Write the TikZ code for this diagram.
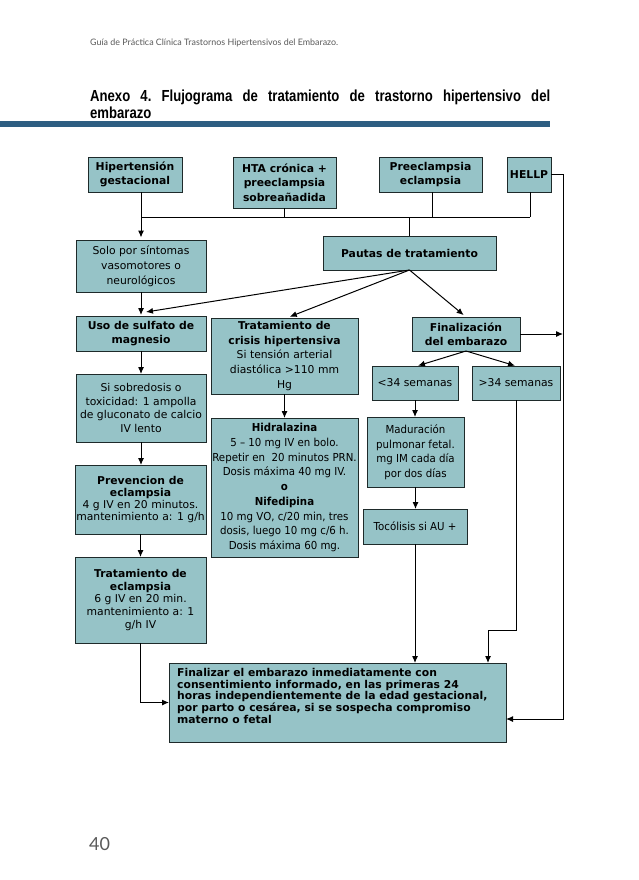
\documentclass[tikz,border=0pt]{standalone}
\usepackage{fontspec}
\usetikzlibrary{arrows.meta}
\newfontfamily\dv{DejaVu Sans}
\newfontfamily\dvn{DejaVu Sans}[FakeStretch=0.93]
\newfontfamily\ttl{Liberation Sans}[FakeStretch=0.82]
\newfontfamily\hdr{Lato}
\definecolor{boxfill}{HTML}{96C3C7}
\definecolor{boxline}{HTML}{1E2A2A}
\definecolor{barcol}{HTML}{2E5E82}
\tikzset{
 box/.style={draw=boxline, fill=boxfill, line width=0.9pt, inner sep=1pt, outer sep=0pt, align=center, font=\dv\fontsize{10.8}{14.6}\selectfont},
 conn/.style={line width=1pt, draw=black},
 arr/.style={conn, -{Latex[length=7pt,width=6pt]}},
}
\begin{document}
\begin{tikzpicture}[x=1pt,y=-1pt]
\useasboundingbox (0,0) rectangle (638,880);
% header
\node[anchor=base west, font=\hdr\fontsize{8.9}{10}\selectfont, text=black!65, inner sep=0] (hdr) at (90,46) {Guía de Práctica Clínica Trastornos Hipertensivos del Embarazo.};
\node[anchor=base west, font=\ttl\bfseries\fontsize{16}{17}\selectfont\frenchspacing, inner sep=0] (t1) at (90,102) {\makebox[460pt][s]{Anexo 4. Flujograma de tratamiento de trastorno hipertensivo del}};
\node[anchor=base west, font=\ttl\bfseries\fontsize{16}{17}\selectfont, inner sep=0] (t2) at (90,119) {embarazo};
\fill[barcol] (0,121.5) rectangle (550,127.5);
\node[anchor=base west, font=\hdr\fontsize{18}{20}\selectfont, text=black!65, inner sep=0] (pg) at (89,850) {40};

% boxes
\node[box, minimum width=94pt, minimum height=35pt] (hg) at (135,174.5) {\textbf{Hipertensión}\\\textbf{gestacional}};
\node[box, minimum width=103pt, minimum height=51pt] (hta) at (284.5,182.5) {\textbf{HTA crónica +}\\\textbf{preeclampsia}\\\textbf{sobreañadida}};
\node[box, minimum width=103pt, minimum height=35pt] (pre) at (430.5,174.5) {\textbf{Preeclampsia}\\\textbf{eclampsia}};
\node[box, minimum width=44pt, minimum height=35pt] (hellp) at (529,174.5) {\textbf{HELLP}};
\node[box, minimum width=130pt, minimum height=52pt, font=\dv\fontsize{10.8}{15}\selectfont] (solo) at (141,266) {Solo por síntomas\\vasomotores o\\neurológicos};
\node[box, minimum width=173pt, minimum height=34pt] (pautas) at (409.5,253) {\textbf{Pautas de tratamiento}};
\node[box, minimum width=130pt, minimum height=35pt, font=\dv\fontsize{10.8}{14}\selectfont] (uso) at (141,333.5) {\textbf{Uso de sulfato de}\\\textbf{magnesio}};
\node[box, minimum width=147pt, minimum height=76pt] (crisis) at (284.5,356) {\textbf{Tratamiento de}\\\textbf{crisis hipertensiva}\\Si tensión arterial\\diastólica >110 mm\\Hg};
\node[box, minimum width=108pt, minimum height=34pt, font=\dv\fontsize{10.8}{14}\selectfont] (fin) at (466,334) {\textbf{Finalización}\\\textbf{del embarazo}};
\node[box, minimum width=86pt, minimum height=34pt] (lt34) at (415,383) {<34 semanas};
\node[box, minimum width=88pt, minimum height=34pt] (gt34) at (516,383) {>34 semanas};
\node[box, minimum width=130pt, minimum height=68pt, font=\dv\fontsize{10.8}{13.4}\selectfont] (sobre) at (141,408) {Si sobredosis o\\toxicidad: 1 ampolla\\de gluconato de calcio\\IV lento};
\node[box, minimum width=131pt, minimum height=69pt, font=\dv\fontsize{10.8}{12}\selectfont] (prev) at (140.5,499.5) {\textbf{Prevencion de}\\\textbf{eclampsia}\\4 g IV en 20 minutos.\\mantenimiento a: 1 g/h};
\node[box, minimum width=131pt, minimum height=86pt, font=\dv\fontsize{10.8}{12.8}\selectfont] (trat) at (140.5,600) {\textbf{Tratamiento de}\\\textbf{eclampsia}\\6 g IV en 20 min.\\mantenimiento a: 1\\g/h IV};
\node[box, minimum width=147pt, minimum height=139pt, font=\dvn\fontsize{11}{14.75}\selectfont] (hid) at (284.5,487.5) {\textbf{Hidralazina}\\5 – 10 mg IV en bolo.\\Repetir en\ \ 20 minutos PRN.\\Dosis máxima 40 mg IV.\\\textbf{o}\\\textbf{Nifedipina}\\10 mg VO, c/20 min, tres\\dosis, luego 10 mg c/6 h.\\Dosis máxima 60 mg.};
\node[box, minimum width=97pt, minimum height=70pt, font=\dvn\fontsize{11}{14.5}\selectfont] (mad) at (415.5,452) {Maduración\\pulmonar fetal.\\mg IM cada día\\por dos días};
\node[box, minimum width=104pt, minimum height=35pt, font=\dvn\fontsize{11}{14.5}\selectfont] (toco) at (415,526.5) {Tocólisis si AU +};
\node[box, minimum width=337pt, minimum height=79pt] (final) at (337.5,702.5) {};
\node[anchor=north west, align=left, inner sep=0, font=\dv\bfseries\fontsize{10.8}{11.7}\selectfont] (finaltxt) at (177,668) {Finalizar el embarazo inmediatamente con\\consentimiento informado, en las primeras 24\\horas independientemente de la edad gestacional,\\por parto o cesárea, si se sospecha compromiso\\materno o fetal};

% connectors
\coordinate (busL) at (141,217);
\coordinate (busR) at (530,217);
\coordinate (rx) at (563,0);
\coordinate (fr) at (563,719);
\coordinate (g2) at (488,630);
\draw[conn] (busL) -- (busR);
\draw[conn] (hta.south) -- (hta.south |- busL);
\draw[conn] ([xshift=1.5pt]pre.south) -- ([xshift=1.5pt]pre.south |- busL);
\draw[conn] ([xshift=1pt]hellp.south) -- ([xshift=1pt]hellp.south |- busL);
\draw[conn] (pautas.north) -- (pautas.north |- busL);
\draw[arr, shorten >=2.5pt] (hg.south -| solo.north) -- (solo.north);
\draw[arr, shorten >=1pt] (solo.south) -- (uso.north);
\draw[arr] (pautas.south) -- ([xshift=5pt,yshift=4pt]uso.north);
\draw[arr, shorten >=3.5pt] (pautas.south) -- ([xshift=2pt]crisis.north);
\draw[arr, shorten >=3pt] (pautas.south) -- (fin.north);
\draw[arr] (fin.east) -- (fin.east -| rx);
\draw[arr] (hellp.east) -| (fr) -- (fr -| final.east);
\draw[arr, shorten >=1pt] (fin.south) -- ([xshift=2pt]lt34.north);
\draw[arr, shorten >=1pt] (fin.south) -- (gt34.north);
\draw[arr] (lt34.south) -- (lt34.south |- mad.north);
\draw[arr] (mad.south) -- (mad.south |- toco.north);
\draw[arr] (toco.south) -- (toco.south |- final.north);
\draw[arr] (gt34.south) |- (g2) -- (g2 |- final.north);
\draw[arr] (crisis.south) -- (hid.north);
\draw[arr] (uso.south) -- (sobre.north);
\draw[arr] (sobre.south) -- (sobre.south |- prev.north);
\draw[arr] (prev.south) -- (trat.north);
\draw[arr] (trat.south) |- (final.west);
\end{tikzpicture}
\end{document}
